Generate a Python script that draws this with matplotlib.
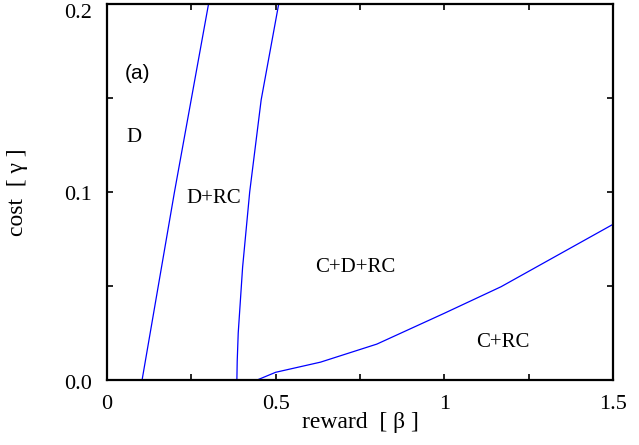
import matplotlib
matplotlib.use("Agg")
import matplotlib.pyplot as plt
from matplotlib.ticker import MultipleLocator, FixedLocator, FixedFormatter
from matplotlib.transforms import ScaledTranslation

# Boundary curves (reward beta, cost gamma)
b1_beta = [0.104, 0.200, 0.301]
b1_gamma = [0.0, 0.1, 0.2]

b2_beta = [0.385, 0.386, 0.389, 0.402, 0.423, 0.457, 0.509]
b2_gamma = [0.0, 0.010, 0.025, 0.060, 0.100, 0.149, 0.200]

b3_beta = [0.445, 0.500, 0.633, 0.800, 1.000, 1.168, 1.500]
b3_gamma = [0.0, 0.0041, 0.0095, 0.0191, 0.0355, 0.0496, 0.0828]

region_labels = ["D", "D+RC", "C+D+RC", "C+RC"]
region_x = [0.080, 0.317, 0.737, 1.174]
region_y = [0.129, 0.0968, 0.0600, 0.0197]

xtick_vals = [0, 0.5, 1, 1.5]
xtick_labels = ["0", "0.5", "1", "1.5"]
ytick_vals = [0.0, 0.1, 0.2]
ytick_labels = ["0.0", "0.1", "0.2"]

serif = ["Liberation Serif", "DejaVu Serif"]

fig = plt.figure(figsize=(6.39, 4.45), dpi=100)
ax = fig.add_axes([107/639, 1-380/445, 506/639, 376/445])

for bx, by in [(b1_beta, b1_gamma), (b2_beta, b2_gamma), (b3_beta, b3_gamma)]:
    ax.plot(bx, by, color="#0000ff", lw=0.9)

ax.set_xlim(0, 1.5)
ax.set_ylim(0, 0.2)

ax.xaxis.set_major_locator(FixedLocator(xtick_vals))
ax.xaxis.set_major_formatter(FixedFormatter(xtick_labels))
ax.xaxis.set_minor_locator(MultipleLocator(0.25))
ax.yaxis.set_major_locator(FixedLocator(ytick_vals))
ax.yaxis.set_major_formatter(FixedFormatter(ytick_labels))
ax.yaxis.set_minor_locator(MultipleLocator(0.05))

ax.tick_params(which="both", direction="in", top=True, right=True,
               length=4.5, width=1.2)
ax.tick_params(axis="x", which="major", pad=11)
ax.tick_params(axis="y", which="major", pad=10.5)
for lab in ax.get_xticklabels() + ax.get_yticklabels():
    lab.set_family(serif)
    lab.set_fontsize(16)

# small downward offsets of y tick labels as in the reference
shifts_px = [2, 1.5, 7]
for lab, dy in zip(ax.get_yticklabels(), shifts_px):
    lab.set_transform(lab.get_transform() +
                      ScaledTranslation(0, -dy / 100, fig.dpi_scale_trans))

for s in ax.spines.values():
    s.set_linewidth(1.6)

ax.set_xlabel("reward  [ β ]", family=serif, fontsize=17)
ax.set_ylabel("cost  [ γ ]", family=serif, fontsize=17)
ax.xaxis.set_label_coords(0.5, -0.085)
ax.yaxis.set_label_coords(-0.156, 0.5)

for t, x, y in zip(region_labels, region_x, region_y):
    ax.text(x, y, t, family=serif, fontsize=15, ha="center", va="center")

ax.text(0.089, 0.163, "(a)", family=["Liberation Sans", "DejaVu Sans"],
        fontsize=15, ha="center", va="center")

fig.savefig("out.png", dpi=100)
